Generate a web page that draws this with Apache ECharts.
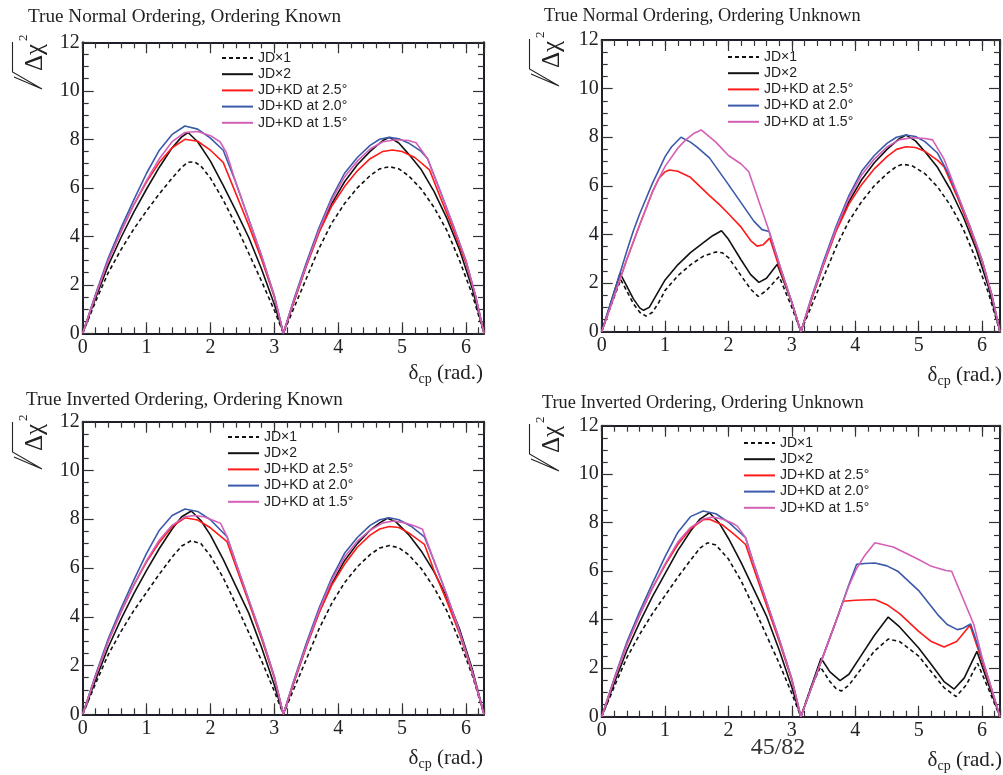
<!DOCTYPE html>
<html><head><meta charset="utf-8">
<script src="https://cdn.jsdelivr.net/npm/echarts@6/dist/echarts.min.js"></script>
<style>html,body{margin:0;padding:0;background:#fff}#c{width:1003px;height:775px}</style>
</head><body><div id="c"></div>
<script>
// ---------------- data ----------------
const SERIES_NAMES = ['JD×1', 'JD×2', 'JD+KD at 2.5°', 'JD+KD at 2.0°', 'JD+KD at 1.5°'];
const PANEL_TITLES = ['True Normal Ordering, Ordering Known', 'True Normal Ordering, Ordering Unknown',
  'True Inverted Ordering, Ordering Known', 'True Inverted Ordering, Ordering Unknown'];
const X_TICKS = [0, 1, 2, 3, 4, 5, 6];
const Y_TICKS = [0, 2, 4, 6, 8, 10, 12];
const X_MAX = 6.2832;

// True Normal Ordering, Ordering Known
const nk_jd1 = [[0,0],[0.2,1.3],[0.4,2.5],[0.6,3.45],[0.8,4.3],[1.0,5.05],[1.2,5.75],[1.4,6.4],[1.55,6.85],[1.65,7.05],[1.75,7.07],[1.85,6.9],[2.0,6.4],[2.2,5.5],[2.4,4.45],[2.6,3.3],[2.8,2.15],[3.0,0.95],[3.1416,0],
  [3.3,1.0],[3.5,2.25],[3.7,3.5],[3.9,4.55],[4.1,5.35],[4.3,6.0],[4.5,6.5],[4.65,6.78],[4.8,6.87],[4.95,6.78],[5.1,6.5],[5.3,5.95],[5.5,5.2],[5.7,4.25],[5.9,3.0],[6.1,1.6],[6.2832,0]];
const nk_jd2 = [[0,0],[0.2,1.45],[0.4,2.8],[0.6,3.95],[0.8,5.0],[1.0,5.95],[1.2,6.85],[1.4,7.65],[1.55,8.1],[1.65,8.28],[1.8,7.9],[2.0,7.1],[2.2,6.1],[2.4,5.05],[2.6,3.95],[2.8,2.65],[3.0,1.2],[3.1416,0],
  [3.3,1.25],[3.5,2.8],[3.7,4.2],[3.9,5.35],[4.1,6.25],[4.3,6.95],[4.5,7.5],[4.7,7.95],[4.8,8.08],[4.95,7.85],[5.1,7.4],[5.3,6.75],[5.5,5.85],[5.7,4.75],[5.9,3.45],[6.1,1.85],[6.2832,0]];
const nk_r25 = [[0,0],[0.2,1.55],[0.4,3.0],[0.6,4.2],[0.8,5.3],[1.0,6.25],[1.2,7.05],[1.4,7.65],[1.6,8.0],[1.8,7.92],[2.0,7.55],[2.2,7.05],[2.4,5.75],[2.6,4.45],[2.8,3.05],[3.0,1.5],[3.1416,0],
  [3.3,1.25],[3.5,2.75],[3.7,4.15],[3.9,5.25],[4.1,6.05],[4.3,6.7],[4.5,7.2],[4.7,7.5],[4.85,7.56],[5.0,7.5],[5.2,7.25],[5.43,6.74],[5.6,5.6],[5.8,4.3],[6.0,2.9],[6.15,1.55],[6.2832,0]];
const nk_b20 = [[0,0],[0.2,1.6],[0.4,3.1],[0.6,4.35],[0.8,5.5],[1.0,6.6],[1.2,7.55],[1.4,8.2],[1.6,8.55],[1.8,8.42],[2.0,8.05],[2.2,7.55],[2.4,6.2],[2.6,4.7],[2.8,3.2],[3.0,1.55],[3.1416,0],
  [3.3,1.35],[3.5,2.9],[3.7,4.35],[3.9,5.6],[4.1,6.6],[4.3,7.25],[4.5,7.75],[4.65,8.0],[4.8,8.08],[4.95,8.02],[5.1,7.85],[5.3,7.5],[5.4,7.2],[5.6,5.85],[5.8,4.45],[6.0,3.0],[6.15,1.55],[6.2832,0]];
const nk_p15 = [[0,0],[0.2,1.55],[0.4,3.0],[0.6,4.2],[0.8,5.3],[1.0,6.3],[1.2,7.2],[1.4,7.9],[1.6,8.28],[1.8,8.32],[2.0,8.15],[2.15,7.9],[2.25,7.45],[2.4,6.2],[2.6,4.7],[2.8,3.2],[3.0,1.55],[3.1416,0],
  [3.3,1.3],[3.5,2.8],[3.7,4.25],[3.9,5.5],[4.1,6.45],[4.3,7.1],[4.5,7.6],[4.7,7.9],[4.9,7.98],[5.1,7.95],[5.22,7.86],[5.4,7.2],[5.6,5.85],[5.8,4.45],[6.0,3.0],[6.15,1.55],[6.2832,0]];

// True Normal Ordering, Ordering Unknown
const nu_jd1 = [[0,0],[0.15,1.1],[0.3,2.15],[0.4,1.65],[0.5,1.15],[0.6,0.8],[0.7,0.64],[0.8,0.8],[0.9,1.2],[1.0,1.7],[1.2,2.3],[1.4,2.75],[1.6,3.1],[1.8,3.28],[1.9,3.25],[2.0,3.05],[2.2,2.3],[2.35,1.75],[2.47,1.45],[2.6,1.7],[2.8,2.27],[3.0,1.0],[3.1416,0],
  [3.3,1.0],[3.5,2.25],[3.7,3.5],[3.9,4.55],[4.1,5.35],[4.3,6.0],[4.5,6.5],[4.65,6.8],[4.75,6.89],[4.9,6.82],[5.1,6.5],[5.3,5.95],[5.5,5.2],[5.7,4.25],[5.9,3.0],[6.1,1.6],[6.2832,0]];
const nu_jd2 = [[0,0],[0.15,1.25],[0.29,2.4],[0.4,1.85],[0.5,1.35],[0.6,0.98],[0.66,0.88],[0.75,1.0],[0.85,1.45],[1.0,2.13],[1.2,2.75],[1.4,3.25],[1.6,3.65],[1.75,3.95],[1.89,4.15],[2.0,3.8],[2.2,2.95],[2.35,2.35],[2.48,2.03],[2.6,2.2],[2.77,2.77],[3.0,1.2],[3.1416,0],
  [3.3,1.25],[3.5,2.8],[3.7,4.2],[3.9,5.35],[4.1,6.25],[4.3,6.95],[4.5,7.5],[4.7,7.95],[4.8,8.09],[4.95,7.85],[5.1,7.4],[5.3,6.75],[5.5,5.85],[5.7,4.75],[5.9,3.45],[6.1,1.85],[6.2832,0]];
const nu_r25 = [[0,0],[0.2,1.5],[0.4,3.0],[0.6,4.4],[0.8,5.75],[0.9,6.3],[1.0,6.58],[1.07,6.65],[1.2,6.6],[1.4,6.35],[1.54,6.0],[1.7,5.6],[1.85,5.25],[2.0,4.85],[2.2,4.3],[2.35,3.75],[2.45,3.52],[2.55,3.58],[2.65,3.85],[2.8,2.65],[3.0,1.2],[3.1416,0],
  [3.3,1.25],[3.5,2.75],[3.7,4.15],[3.9,5.25],[4.1,6.05],[4.3,6.7],[4.5,7.2],[4.65,7.5],[4.8,7.61],[4.95,7.58],[5.1,7.42],[5.3,7.05],[5.4,6.79],[5.6,5.6],[5.8,4.3],[6.0,2.9],[6.15,1.55],[6.2832,0]];
const nu_b20 = [[0,0],[0.2,1.65],[0.4,3.35],[0.5,4.15],[0.6,4.85],[0.8,6.1],[0.9,6.65],[1.0,7.2],[1.1,7.6],[1.25,8.0],[1.4,7.8],[1.5,7.6],[1.7,7.15],[2.0,6.05],[2.2,5.3],[2.4,4.55],[2.53,4.2],[2.64,4.12],[2.8,2.8],[3.0,1.2],[3.1416,0],
  [3.3,1.35],[3.5,2.9],[3.7,4.35],[3.9,5.6],[4.1,6.6],[4.3,7.25],[4.5,7.75],[4.65,8.0],[4.8,8.09],[4.95,8.03],[5.1,7.82],[5.3,7.34],[5.45,6.6],[5.6,5.7],[5.8,4.4],[6.0,2.95],[6.15,1.55],[6.2832,0]];
const nu_p15 = [[0,0],[0.2,1.5],[0.4,3.0],[0.6,4.4],[0.8,5.75],[0.9,6.3],[1.0,6.8],[1.2,7.55],[1.33,7.9],[1.45,8.15],[1.57,8.3],[1.8,7.8],[2.0,7.25],[2.2,6.9],[2.32,6.58],[2.64,4.14],[2.8,2.8],[3.0,1.2],[3.1416,0],
  [3.3,1.3],[3.5,2.8],[3.7,4.25],[3.9,5.5],[4.1,6.45],[4.3,7.1],[4.5,7.6],[4.7,7.9],[4.9,7.98],[5.1,7.95],[5.22,7.89],[5.4,7.1],[5.6,5.75],[5.8,4.4],[6.0,2.95],[6.15,1.55],[6.2832,0]];

// True Inverted Ordering, Ordering Known
const ik_jd1 = [[0,0],[0.2,1.25],[0.4,2.45],[0.6,3.4],[0.8,4.25],[1.0,5.0],[1.2,5.75],[1.4,6.45],[1.55,6.9],[1.7,7.12],[1.85,7.0],[2.0,6.5],[2.2,5.6],[2.4,4.5],[2.6,3.35],[2.8,2.2],[3.0,0.95],[3.1416,0],
  [3.3,1.0],[3.5,2.25],[3.7,3.5],[3.9,4.55],[4.1,5.4],[4.3,6.05],[4.5,6.55],[4.65,6.82],[4.8,6.92],[4.95,6.83],[5.1,6.55],[5.3,5.98],[5.5,5.2],[5.7,4.25],[5.9,3.0],[6.1,1.6],[6.2832,0]];
const ik_jd2 = [[0,0],[0.2,1.4],[0.4,2.75],[0.6,3.9],[0.8,4.95],[1.0,5.9],[1.2,6.8],[1.4,7.6],[1.55,8.1],[1.7,8.34],[1.85,7.95],[2.0,7.35],[2.2,6.35],[2.4,5.25],[2.6,4.15],[2.8,2.75],[3.0,1.2],[3.1416,0],
  [3.3,1.25],[3.5,2.8],[3.7,4.2],[3.9,5.35],[4.1,6.3],[4.3,7.0],[4.5,7.55],[4.65,7.85],[4.77,8.04],[4.9,7.9],[5.1,7.38],[5.3,6.7],[5.5,5.85],[5.7,4.8],[5.9,3.5],[6.1,1.85],[6.2832,0]];
const ik_r25 = [[0,0],[0.2,1.55],[0.4,3.0],[0.6,4.2],[0.8,5.3],[1.0,6.25],[1.2,7.05],[1.4,7.7],[1.6,8.06],[1.8,7.97],[2.0,7.65],[2.26,7.08],[2.4,6.05],[2.6,4.6],[2.8,3.1],[3.0,1.5],[3.1416,0],
  [3.3,1.25],[3.5,2.75],[3.7,4.15],[3.9,5.3],[4.1,6.15],[4.3,6.85],[4.5,7.35],[4.65,7.6],[4.8,7.7],[4.95,7.66],[5.1,7.45],[5.35,6.97],[5.5,5.9],[5.7,4.65],[5.9,3.3],[6.1,1.7],[6.2832,0]];
const ik_b20 = [[0,0],[0.2,1.6],[0.4,3.1],[0.6,4.35],[0.8,5.5],[1.0,6.6],[1.2,7.55],[1.4,8.15],[1.6,8.42],[1.8,8.32],[2.0,7.98],[2.26,7.28],[2.4,6.2],[2.6,4.7],[2.8,3.2],[3.0,1.55],[3.1416,0],
  [3.3,1.35],[3.5,2.9],[3.7,4.35],[3.9,5.6],[4.1,6.6],[4.3,7.25],[4.5,7.75],[4.65,7.98],[4.8,8.06],[4.95,7.98],[5.15,7.7],[5.35,7.28],[5.5,6.3],[5.7,4.9],[5.9,3.4],[6.1,1.75],[6.2832,0]];
const ik_p15 = [[0,0],[0.2,1.55],[0.4,3.0],[0.6,4.2],[0.8,5.3],[1.0,6.3],[1.2,7.15],[1.4,7.75],[1.6,8.1],[1.75,8.15],[1.9,8.1],[2.05,7.95],[2.16,7.83],[2.26,7.28],[2.4,6.2],[2.6,4.7],[2.8,3.2],[3.0,1.55],[3.1416,0],
  [3.3,1.3],[3.5,2.8],[3.7,4.25],[3.9,5.5],[4.1,6.45],[4.3,7.1],[4.5,7.55],[4.7,7.85],[4.87,7.93],[5.05,7.85],[5.2,7.72],[5.32,7.59],[5.5,6.3],[5.7,4.9],[5.9,3.4],[6.1,1.75],[6.2832,0]];

// True Inverted Ordering, Ordering Unknown
const iu_jd1 = [[0,0],[0.2,1.25],[0.4,2.45],[0.6,3.4],[0.8,4.25],[1.0,5.0],[1.2,5.75],[1.4,6.45],[1.55,6.95],[1.67,7.17],[1.8,7.08],[2.0,6.5],[2.2,5.6],[2.4,4.5],[2.6,3.35],[2.8,2.2],[3.0,0.95],[3.1416,0],
  [3.3,1.2],[3.45,2.05],[3.6,1.45],[3.7,1.15],[3.78,1.06],[3.9,1.3],[4.1,2.0],[4.3,2.7],[4.52,3.2],[4.7,3.1],[5.0,2.5],[5.2,1.85],[5.4,1.2],[5.59,0.83],[5.75,1.3],[5.93,2.2],[6.1,1.15],[6.2832,0]];
const iu_jd2 = [[0,0],[0.2,1.4],[0.4,2.75],[0.6,3.9],[0.8,4.95],[1.0,5.9],[1.2,6.85],[1.4,7.65],[1.55,8.15],[1.7,8.41],[1.85,8.0],[2.0,7.35],[2.2,6.35],[2.4,5.25],[2.6,4.15],[2.8,2.75],[3.0,1.2],[3.1416,0],
  [3.3,1.2],[3.46,2.41],[3.6,1.85],[3.76,1.49],[3.9,1.75],[4.1,2.55],[4.3,3.35],[4.52,4.11],[4.7,3.7],[5.0,2.83],[5.2,2.15],[5.4,1.45],[5.56,1.14],[5.72,1.6],[5.92,2.69],[6.1,1.35],[6.2832,0]];
const iu_r25 = [[0,0],[0.2,1.55],[0.4,3.0],[0.6,4.2],[0.8,5.3],[1.0,6.25],[1.2,7.1],[1.4,7.75],[1.6,8.12],[1.7,8.14],[1.9,7.92],[2.1,7.5],[2.27,7.1],[2.4,6.1],[2.6,4.6],[2.8,3.1],[3.0,1.5],[3.1416,0],
  [3.3,1.13],[3.5,2.55],[3.7,3.97],[3.81,4.76],[4.0,4.8],[4.31,4.83],[4.5,4.62],[4.7,4.25],[5.0,3.52],[5.2,3.1],[5.4,2.87],[5.6,3.1],[5.81,3.77],[6.0,2.3],[6.15,1.1],[6.2832,0]];
const iu_b20 = [[0,0],[0.2,1.6],[0.4,3.1],[0.6,4.35],[0.8,5.5],[1.0,6.6],[1.2,7.6],[1.4,8.25],[1.6,8.48],[1.8,8.37],[2.0,8.02],[2.27,7.38],[2.4,6.3],[2.6,4.75],[2.8,3.2],[3.0,1.55],[3.1416,0],
  [3.3,1.13],[3.5,2.55],[3.7,3.97],[3.9,5.45],[4.02,6.28],[4.15,6.32],[4.31,6.34],[4.5,6.22],[4.67,6.0],[5.0,5.2],[5.3,4.21],[5.45,3.8],[5.61,3.59],[5.7,3.65],[5.82,3.82],[6.0,2.4],[6.15,1.15],[6.2832,0]];
const iu_p15 = [[0,0],[0.2,1.55],[0.4,3.0],[0.6,4.2],[0.8,5.3],[1.0,6.3],[1.2,7.2],[1.4,7.8],[1.6,8.15],[1.75,8.23],[1.9,8.15],[2.05,8.0],[2.14,7.86],[2.27,7.38],[2.4,6.3],[2.6,4.75],[2.8,3.2],[3.0,1.55],[3.1416,0],
  [3.3,1.13],[3.5,2.55],[3.7,3.97],[3.9,5.4],[4.02,6.1],[4.15,6.65],[4.31,7.17],[4.6,7.0],[5.0,6.48],[5.2,6.2],[5.43,6.03],[5.52,6.0],[5.87,3.8],[6.0,2.45],[6.15,1.15],[6.2832,0]];

// ---------------- layout / style ----------------
const COLORS = ['#111111', '#111111', '#ff1a1a', '#3c5aaa', '#d35fb7'];
const PANELS = [
  { grid: {left: 82.7, top: 42.3, width: 401.3, height: 291}, series: [nk_jd1, nk_jd2, nk_r25, nk_b20, nk_p15],
    title: [28, 16.5], tsize: 19.2, legend: [221, 51], ylab: [0, 0], xname: [483, 360.7] },
  { grid: {left: 601.7, top: 40, width: 400.6, height: 291.7}, series: [nu_jd1, nu_jd2, nu_r25, nu_b20, nu_p15],
    title: [544, 16.5], tsize: 18.3, legend: [727, 50], ylab: [517, -3], xname: [1002, 362] },
  { grid: {left: 82.7, top: 421.7, width: 401.3, height: 292.6}, series: [ik_jd1, ik_jd2, ik_r25, ik_b20, ik_p15],
    title: [26, 399.5], tsize: 19.1, legend: [227, 430], ylab: [0, 380], xname: [483, 745.7] },
  { grid: {left: 601.7, top: 425.7, width: 400.5, height: 291}, series: [iu_jd1, iu_jd2, iu_r25, iu_b20, iu_p15],
    title: [542, 402.8], tsize: 18.3, legend: [743, 436], ylab: [517, 382], xname: [1002, 747] }
];

const SERIF = '"Liberation Serif", "Times New Roman", serif';
const SANS = '"Liberation Sans", Arial, sans-serif';
const FRAME = {show: true, onZero: false, lineStyle: {color: '#1e1e2a', width: 2}};
const TICKC = {color: '#333', width: 1.2};

const grids = [], xAxes = [], yAxes = [], series = [], legends = [], graphics = [];
PANELS.forEach((p, g) => {
  grids.push(Object.assign({}, p.grid, {containLabel: false}));
  const xBase = {type: 'value', gridIndex: g, min: 0, max: X_MAX, splitLine: {show: false}};
  xAxes.push(Object.assign({}, xBase, {position: 'bottom', interval: 1, axisLine: FRAME,
    axisTick: {show: true, inside: true, length: 11, lineStyle: TICKC},
    axisLabel: {show: true, margin: 4, color: '#222', fontFamily: SERIF, fontSize: 20,
      formatter: v => (X_TICKS.indexOf(Math.round(v)) >= 0 && Math.abs(v - Math.round(v)) < 1e-6) ? String(Math.round(v)) : ''}}));
  xAxes.push(Object.assign({}, xBase, {position: 'bottom', interval: 0.2, axisLine: {show: false, onZero: false},
    axisTick: {show: true, inside: true, length: 6, lineStyle: TICKC}, axisLabel: {show: false}}));
  xAxes.push(Object.assign({}, xBase, {position: 'top', interval: 1, axisLine: FRAME,
    axisTick: {show: true, inside: true, length: 11, lineStyle: TICKC}, axisLabel: {show: false}}));
  xAxes.push(Object.assign({}, xBase, {position: 'top', interval: 0.2, axisLine: {show: false, onZero: false},
    axisTick: {show: true, inside: true, length: 6, lineStyle: TICKC}, axisLabel: {show: false}}));
  const yBase = {type: 'value', gridIndex: g, min: Y_TICKS[0], max: Y_TICKS[Y_TICKS.length - 1], interval: 2, splitLine: {show: false},
    axisLine: FRAME, axisTick: {show: true, inside: true, length: 11, lineStyle: TICKC},
    minorTick: {show: true, splitNumber: 4, length: 6, lineStyle: TICKC}, minorSplitLine: {show: false}};
  yAxes.push(Object.assign({}, yBase, {position: 'left',
    axisLabel: {show: true, margin: 3, color: '#222', fontFamily: SERIF, fontSize: 20}}));
  yAxes.push(Object.assign({}, yBase, {position: 'right', axisLabel: {show: false}}));

  p.series.forEach((d, k) => {
    series.push({
      name: SERIES_NAMES[k], type: 'line', xAxisIndex: 4 * g, yAxisIndex: 2 * g,
      data: d, symbol: 'none', showSymbol: false, smooth: false, animation: false,
      lineStyle: {color: COLORS[k], width: 1.6, type: k === 0 ? [4, 3] : 'solid'},
      itemStyle: {color: COLORS[k]}, z: 2 + k
    });
  });

  legends.push({
    data: SERIES_NAMES.slice(), orient: 'vertical', left: p.legend[0], top: p.legend[1],
    itemWidth: 31, itemHeight: 14, itemGap: 2.2, padding: 0, selectedMode: false,
    itemStyle: {opacity: 0, borderWidth: 0},
    textStyle: {fontFamily: SANS, fontSize: 14, color: '#222', lineHeight: 14}
  });

  graphics.push({type: 'text', x: p.title[0], y: p.title[1], silent: true,
    style: {text: PANEL_TITLES[g], fill: '#222', font: p.tsize + 'px ' + SERIF, textAlign: 'left', textVerticalAlign: 'middle'}});
  graphics.push({type: 'text', x: p.xname[0], y: p.xname[1], silent: true,
    style: {text: '{a|δ}{s|cp}{a| (rad.)}', textAlign: 'right', textVerticalAlign: 'top', fill: '#222',
      rich: {a: {fontFamily: SERIF, fontSize: 21, lineHeight: 26, fill: '#222'},
             s: {fontFamily: SERIF, fontSize: 14, lineHeight: 14, verticalAlign: 'bottom', fill: '#222'}}}});
  // y-axis name: sqrt(Δχ²)
  const dx = p.ylab[0], dy = p.ylab[1];
  graphics.push({type: 'polyline', silent: true,
    shape: {points: [[14 + dx, 77 + dy], [42 + dx, 89 + dy], [12.5 + dx, 72 + dy], [12.5 + dx, 42 + dy]]},
    style: {stroke: '#222', lineWidth: 1.1, fill: null}});
  graphics.push({type: 'text', x: 35 + dx, y: 71 + dy, rotation: Math.PI / 2, silent: true,
    style: {text: 'Δχ', font: '25px ' + SERIF, fill: '#222', textAlign: 'left', textVerticalAlign: 'middle'}});
  graphics.push({type: 'text', x: 23.5 + dx, y: 41 + dy, rotation: Math.PI / 2, silent: true,
    style: {text: '2', font: '13px ' + SERIF, fill: '#222', textAlign: 'left', textVerticalAlign: 'middle'}});
});

graphics.push({type: 'text', x: 778, y: 748, silent: true,
  style: {text: '45/82', font: '24px ' + SERIF, fill: '#333', textAlign: 'center', textVerticalAlign: 'middle'}});

const chart = echarts.init(document.getElementById('c'), null, {renderer: 'canvas', width: 1003, height: 775});
chart.setOption({
  animation: false,
  backgroundColor: '#ffffff',
  grid: grids, xAxis: xAxes, yAxis: yAxes, series: series, legend: legends,
  graphic: {elements: graphics}
});
</script>
</body></html>
